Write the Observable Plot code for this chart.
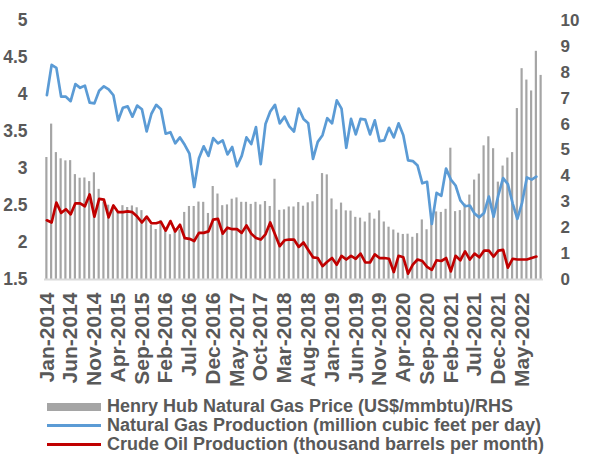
<!DOCTYPE html>
<html><head><meta charset="utf-8">
<script src="https://cdn.jsdelivr.net/npm/d3@7"></script>
<script src="https://cdn.jsdelivr.net/npm/@observablehq/plot@0.6"></script>
<style>
body{margin:0;background:#fff;font-family:"Liberation Sans",Arial,sans-serif;}
#chart svg{display:block;}
#legend{position:relative;height:57px;padding-top:1px;font-weight:bold;font-size:18px;color:#595959;}
#legend .row{display:flex;align-items:center;height:19px;}
#legend .sw{width:54px;margin-left:47px;margin-right:6px;display:flex;align-items:center;height:19px;}
#legend .txt{white-space:nowrap;line-height:17px;}
</style></head><body>
<div id="chart"></div>
<div id="legend"></div>
<script>
// x tick labels (every 5th month, Jan-2014 .. May-2022)
const tickLabels = ["Jan-2014","Jun-2014","Nov-2014","Apr-2015","Sep-2015","Feb-2016","Jul-2016","Dec-2016","May-2017","Oct-2017","Mar-2018","Aug-2018","Jan-2019","Jun-2019","Nov-2019","Apr-2020","Sep-2020","Feb-2021","Jul-2021","Dec-2021","May-2022"];
const leftTicks = [1.5, 2, 2.5, 3, 3.5, 4, 4.5, 5];
const rightTicks = [0, 1, 2, 3, 4, 5, 6, 7, 8, 9, 10];

// Henry Hub price, monthly Jan-2014 .. Sep-2022 (RHS)
const gasPrice = [
 4.71, 6.00, 4.90, 4.66, 4.58, 4.59, 4.05, 3.91, 3.92, 3.78, 4.12, 3.48,
 2.99, 2.87, 2.83, 2.61, 2.85, 2.78, 2.84, 2.77, 2.66, 2.34, 2.09, 1.93,
 2.28, 1.99, 1.73, 1.92, 1.92, 2.59, 2.82, 2.82, 2.99, 2.98, 2.55, 3.59,
 3.30, 2.85, 2.88, 3.10, 3.15, 2.98, 2.98, 2.90, 2.98, 2.88, 3.01, 2.82,
 3.87, 2.67, 2.69, 2.80, 2.80, 2.97, 2.83, 2.96, 3.00, 3.28, 4.09, 4.04,
 3.11, 2.69, 2.95, 2.65, 2.64, 2.40, 2.37, 2.22, 2.56, 2.33, 2.65, 2.22,
 2.02, 1.91, 1.79, 1.74, 1.75, 1.63, 1.77, 2.30, 1.92, 2.39, 2.61, 2.59,
 2.71, 5.07, 2.62, 2.66, 2.91, 3.26, 3.84, 4.07, 5.16, 5.51, 5.05, 3.76,
 4.38, 4.69, 4.90, 6.60, 8.14, 7.70, 7.28, 8.81, 7.88
];

// Natural gas production, Jan-2014 .. Aug-2022 (LHS)
const gasProduction = [
 3.99, 4.40, 4.36, 3.97, 3.97, 3.91, 4.14, 4.09, 4.12, 3.89, 3.88, 4.05,
 4.11, 4.07, 3.99, 3.65, 3.82, 3.84, 3.70, 3.85, 3.80, 3.50, 3.74, 3.86,
 3.80, 3.47, 3.49, 3.34, 3.42, 3.32, 3.20, 2.75, 3.14, 3.30, 3.17, 3.41,
 3.34, 3.38, 3.19, 3.29, 3.03, 3.17, 3.42, 3.33, 3.56, 3.06, 3.60, 3.77,
 3.86, 3.61, 3.70, 3.57, 3.50, 3.81, 3.67, 3.61, 3.13, 3.36, 3.45, 3.68,
 3.61, 3.92, 3.81, 3.28, 3.67, 3.46, 3.67, 3.66, 3.46, 3.65, 3.37, 3.38,
 3.55, 3.42, 3.61, 3.45, 3.11, 3.10, 3.04, 2.80, 2.82, 2.25, 2.67, 2.63,
 3.00, 2.85, 2.77, 2.57, 2.49, 2.50, 2.39, 2.34, 2.40, 2.62, 2.35, 2.64,
 2.87, 2.79, 2.53, 2.32, 2.54, 2.88, 2.85, 2.89
];

// Crude oil production, Jan-2014 .. Aug-2022 (LHS)
const oilProduction = [
 2.30, 2.27, 2.54, 2.40, 2.45, 2.38, 2.53, 2.53, 2.49, 2.65, 2.35, 2.59,
 2.58, 2.34, 2.50, 2.41, 2.41, 2.42, 2.41, 2.35, 2.27, 2.35, 2.26, 2.26,
 2.28, 2.16, 2.29, 2.15, 2.24, 2.06, 2.05, 2.02, 2.13, 2.13, 2.15, 2.31,
 2.32, 2.12, 2.20, 2.18, 2.18, 2.13, 2.23, 2.12, 2.06, 2.04, 2.11, 2.27,
 2.11, 1.95, 2.03, 2.04, 2.04, 1.94, 2.00, 1.90, 1.80, 1.79, 1.68, 1.74,
 1.79, 1.70, 1.82, 1.77, 1.82, 1.78, 1.85, 1.73, 1.73, 1.84, 1.79, 1.79,
 1.78, 1.60, 1.82, 1.80, 1.58, 1.70, 1.77, 1.75, 1.67, 1.63, 1.76, 1.75,
 1.79, 1.61, 1.82, 1.76, 1.88, 1.77, 1.85, 1.80, 1.89, 1.89, 1.81, 1.89,
 1.90, 1.66, 1.78, 1.77, 1.77, 1.77, 1.79, 1.81
];

const seriesNames = [
 "Henry Hub Natural Gas Price (US$/mmbtu)/RHS",
 "Natural Gas Production (million cubic feet per day)",
 "Crude Oil Production (thousand barrels per month)"
];
const seriesColors = ["#A5A5A5", "#5B9BD5", "#C00000"];

const leftMin = 1.5, leftMax = 5, rightMax = 10;
const toLeft = v => leftMin + v * (leftMax - leftMin) / rightMax;

const bars = gasPrice.map((v, i) => ({i, v}));
const gas = gasProduction.map((v, i) => ({i, v}));
const oil = oilProduction.map((v, i) => ({i, v}));
const tickIdx = tickLabels.map((_, k) => k * 5);

const chart = Plot.plot({
  width: 589,
  height: 396,
  marginTop: 20,
  marginLeft: 44,
  marginRight: 46,
  marginBottom: 117,
  style: {fontFamily: "'Liberation Sans', Arial, sans-serif", fontWeight: "bold", fontSize: "17px", color: "#595959", background: "white", overflow: "visible"},
  x: {type: "linear", domain: [-0.5, gasPrice.length - 0.5], axis: null},
  y: {domain: [leftMin, leftMax], axis: null},
  marks: [
    Plot.rectY(bars, {x1: d => d.i - 0.23, x2: d => d.i + 0.23, y1: leftMin, y2: d => toLeft(d.v), fill: seriesColors[0]}),
    Plot.ruleY([leftMin], {stroke: "#D9D9D9", strokeWidth: 2}),
    Plot.lineY(gas, {x: "i", y: "v", stroke: seriesColors[1], strokeWidth: 2.7}),
    Plot.lineY(oil, {x: "i", y: "v", stroke: seriesColors[2], strokeWidth: 2.7}),
    Plot.axisY({anchor: "left", ticks: leftTicks, tickFormat: d => String(d), tickSize: 0, tickPadding: 17, fontSize: 17.5, label: null}),
    Plot.axisY({anchor: "right", ticks: rightTicks.map(toLeft), tickFormat: d => String(Math.round((d - leftMin) * rightMax / (leftMax - leftMin))), tickSize: 0, tickPadding: 17, fontSize: 17, label: null}),
    Plot.axisX({ticks: tickIdx, tickFormat: i => tickLabels[i / 5], tickRotate: -90, tickSize: 0, tickPadding: 13, fontSize: 21, label: null})
  ]
});
document.getElementById("chart").appendChild(chart);

const legend = document.getElementById("legend");
seriesNames.forEach((name, k) => {
  const row = document.createElement("div");
  row.className = "row";
  const sw = document.createElement("div");
  sw.className = "sw";
  const mark = document.createElement("div");
  mark.style.width = "54px";
  mark.style.height = k === 0 ? "8px" : "3px";
  mark.style.background = seriesColors[k];
  sw.appendChild(mark);
  const txt = document.createElement("div");
  txt.className = "txt";
  txt.textContent = name;
  row.appendChild(sw);
  row.appendChild(txt);
  legend.appendChild(row);
});
</script>
</body></html>
